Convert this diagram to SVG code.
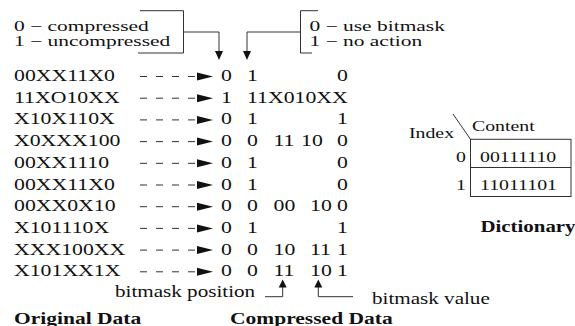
<svg xmlns="http://www.w3.org/2000/svg" width="575" height="326" viewBox="0 0 575 326">
<style>
text{font-family:"Liberation Serif","Times New Roman",serif;fill:#111}
.r{font-size:16.5px}
.l{font-size:14.8px}
.t{font-size:15px}
.b{font-size:16.3px;font-weight:bold}
.n{font-size:16px}
.ln{fill:none;stroke:#333;stroke-width:1}
.d{stroke:#333;stroke-width:1;stroke-dasharray:7 9}
.ah{fill:#111}
</style>
<defs>
<g id="da"><line class="d" x1="140" y1="0" x2="197" y2="0"/><polygon class="ah" points="197,-4 213,0 197,4"/></g>
</defs>
<g id="legend-left">
<text class="l" transform="matrix(1.45 0 0 1 14 31)">0 − compressed</text>
<text class="l" transform="matrix(1.45 0 0 1 14 45.7)">1 − uncompressed</text>
<polyline class="ln" points="140,10.7 183.5,10.7 183.5,53 138,53"/>
</g>
<g id="legend-right">
<text class="l" transform="matrix(1.45 0 0 1 309.5 31)">0 − use bitmask</text>
<text class="l" transform="matrix(1.45 0 0 1 309.5 45.7)">1 − no action</text>
<polyline class="ln" points="318,10.7 300.5,10.7 300.5,53 312,53"/>
</g>
<g id="original">
<text class="r" transform="matrix(1.32 0 0 1 14 81)">00XX11X0</text>
<text class="r" transform="matrix(1.32 0 0 1 14 102.7)">11XO10XX</text>
<text class="r" transform="matrix(1.32 0 0 1 14 124.4)">X10X110X</text>
<text class="r" transform="matrix(1.32 0 0 1 14 146.1)">X0XXX100</text>
<text class="r" transform="matrix(1.32 0 0 1 14 167.8)">00XX1110</text>
<text class="r" transform="matrix(1.32 0 0 1 14 189.5)">00XX11X0</text>
<text class="r" transform="matrix(1.32 0 0 1 14 211.2)">00XX0X10</text>
<text class="r" transform="matrix(1.32 0 0 1 14 232.9)">X101110X</text>
<text class="r" transform="matrix(1.32 0 0 1 14 254.6)">XXX100XX</text>
<text class="r" transform="matrix(1.32 0 0 1 14 276.3)">X101XX1X</text>
<text class="b" transform="matrix(1.32 0 0 1 14 324)">Original Data</text>
</g>
<g id="compressed">
<text class="r" transform="matrix(1.32 0 0 1 221 81)">0</text><text class="r" transform="matrix(1.32 0 0 1 247 81)">1</text><text class="r" transform="matrix(1.32 0 0 1 337 81)">0</text>
<text class="r" transform="matrix(1.32 0 0 1 221 102.7)">1</text><text class="r" transform="matrix(1.32 0 0 1 247 102.7)">11X010XX</text>
<text class="r" transform="matrix(1.32 0 0 1 221 124.4)">0</text><text class="r" transform="matrix(1.32 0 0 1 247 124.4)">1</text><text class="r" transform="matrix(1.32 0 0 1 337 124.4)">1</text>
<text class="r" transform="matrix(1.32 0 0 1 221 146.1)">0</text><text class="r" transform="matrix(1.32 0 0 1 247 146.1)">0</text><text class="r" transform="matrix(1.32 0 0 1 273.5 146.1)">11</text><text class="r" transform="matrix(1.32 0 0 1 301 146.1)">10</text><text class="r" transform="matrix(1.32 0 0 1 337 146.1)">0</text>
<text class="r" transform="matrix(1.32 0 0 1 221 167.8)">0</text><text class="r" transform="matrix(1.32 0 0 1 247 167.8)">1</text><text class="r" transform="matrix(1.32 0 0 1 337 167.8)">0</text>
<text class="r" transform="matrix(1.32 0 0 1 221 189.5)">0</text><text class="r" transform="matrix(1.32 0 0 1 247 189.5)">1</text><text class="r" transform="matrix(1.32 0 0 1 337 189.5)">0</text>
<text class="r" transform="matrix(1.32 0 0 1 221 211.2)">0</text><text class="r" transform="matrix(1.32 0 0 1 247 211.2)">0</text><text class="r" transform="matrix(1.32 0 0 1 273.5 211.2)">00</text><text class="r" transform="matrix(1.32 0 0 1 310 211.2)">10</text><text class="r" transform="matrix(1.32 0 0 1 337 211.2)">0</text>
<text class="r" transform="matrix(1.32 0 0 1 221 232.9)">0</text><text class="r" transform="matrix(1.32 0 0 1 247 232.9)">1</text><text class="r" transform="matrix(1.32 0 0 1 337 232.9)">1</text>
<text class="r" transform="matrix(1.32 0 0 1 221 254.6)">0</text><text class="r" transform="matrix(1.32 0 0 1 247 254.6)">0</text><text class="r" transform="matrix(1.32 0 0 1 273.5 254.6)">10</text><text class="r" transform="matrix(1.32 0 0 1 310 254.6)">11</text><text class="r" transform="matrix(1.32 0 0 1 337 254.6)">1</text>
<text class="r" transform="matrix(1.32 0 0 1 221 276.3)">0</text><text class="r" transform="matrix(1.32 0 0 1 247 276.3)">0</text><text class="r" transform="matrix(1.32 0 0 1 273.5 276.3)">11</text><text class="r" transform="matrix(1.32 0 0 1 310 276.3)">10</text><text class="r" transform="matrix(1.32 0 0 1 337 276.3)">1</text>
<text class="n" transform="matrix(1.32 0 0 1 115 297)">bitmask position</text>
<text class="n" transform="matrix(1.32 0 0 1 372 304)">bitmask value</text>
<text class="b" transform="matrix(1.32 0 0 1 230 324)">Compressed Data</text>
</g>
<g id="dictionary">
<text class="t" transform="matrix(1.32 0 0 1 409 138)">Index</text>
<text class="t" transform="matrix(1.32 0 0 1 472 131)">Content</text>
<line class="ln" x1="453" y1="114" x2="470.5" y2="139.3"/>
<rect class="ln" x="470.5" y="139.3" width="100.5" height="57.2"/>
<line class="ln" x1="470.5" y1="167.5" x2="571" y2="167.5"/>
<text class="t" text-anchor="end" transform="matrix(1.32 0 0 1 466 162)">0</text>
<text class="t" text-anchor="end" transform="matrix(1.32 0 0 1 466 190)">1</text>
<text class="t" transform="matrix(1.32 0 0 1 480 162)">00111110</text>
<text class="t" transform="matrix(1.32 0 0 1 480 190)">11011101</text>
<text class="b" transform="matrix(1.28 0 0 1 480.5 232)">Dictionary</text>
</g>
<g id="connectors">
<polyline class="ln" points="183.5,32 219,32 219,51"/>
<polygon class="ah" points="215,51 223,51 219,60"/>
<polyline class="ln" points="300.5,32 247,32 247,51"/>
<polygon class="ah" points="243,51 251,51 247,60"/>
<use href="#da" y="76.5"/>
<use href="#da" y="98.2"/>
<use href="#da" y="119.9"/>
<use href="#da" y="141.6"/>
<use href="#da" y="163.3"/>
<use href="#da" y="185"/>
<use href="#da" y="206.7"/>
<use href="#da" y="228.4"/>
<use href="#da" y="250.1"/>
<use href="#da" y="271.8"/>
<polyline class="ln" points="265,296.7 282.7,296.7 282.7,287"/>
<polygon class="ah" points="278.7,287.5 286.7,287.5 282.7,279.5"/>
<polyline class="ln" points="318.3,287 318.3,296.7 353,296.7"/>
<polygon class="ah" points="314.3,287.5 322.3,287.5 318.3,279.5"/>
</g>
</svg>
